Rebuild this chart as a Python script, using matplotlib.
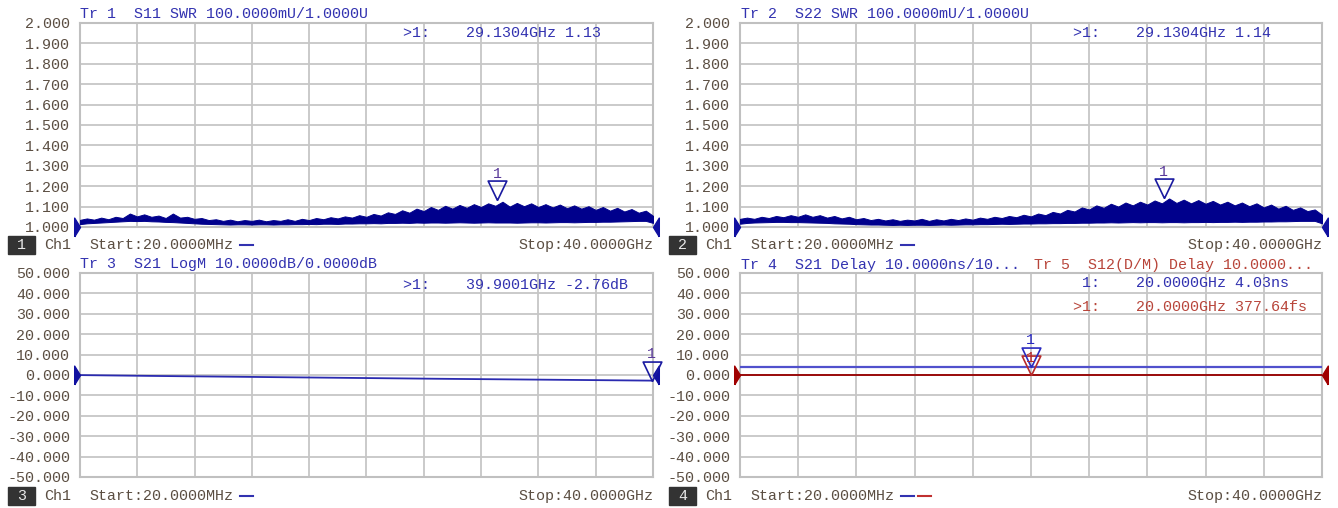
import matplotlib
matplotlib.use('agg')
import matplotlib.pyplot as plt
from matplotlib.patches import Rectangle
from matplotlib.lines import Line2D

# sweep 20 MHz .. 40 GHz; the SWR traces are drawn as a band between
# their lower and upper envelope (GHz, 0.5 GHz spacing)
f_start, f_stop = 0.02, 40.0
swr_freq = [0.02, 0.5, 1, 1.5, 2, 2.5, 3, 3.5, 4, 4.5, 5, 5.5, 6, 6.5, 7, 7.5, 8, 8.5, 9, 9.5,
            10, 10.5, 11, 11.5, 12, 12.5, 13, 13.5, 14, 14.5, 15, 15.5, 16, 16.5, 17, 17.5,
            18, 18.5, 19, 19.5, 20, 20.5, 21, 21.5, 22, 22.5, 23, 23.5, 24, 24.5, 25, 25.5,
            26, 26.5, 27, 27.5, 28, 28.5, 29, 29.5, 30, 30.5, 31, 31.5, 32, 32.5, 33, 33.5,
            34, 34.5, 35, 35.5, 36, 36.5, 37, 37.5, 38, 38.5, 39, 39.5, 40]
s11_hi = [1.035, 1.042, 1.036, 1.046, 1.038, 1.050, 1.044, 1.066, 1.052, 1.062,
          1.050, 1.056, 1.044, 1.066, 1.046, 1.050, 1.040, 1.044, 1.034, 1.038,
          1.030, 1.036, 1.028, 1.034, 1.030, 1.036, 1.028, 1.034, 1.030, 1.038,
          1.030, 1.040, 1.034, 1.044, 1.038, 1.048, 1.042, 1.052, 1.046, 1.058,
          1.050, 1.064, 1.056, 1.072, 1.064, 1.082, 1.070, 1.090, 1.078, 1.098,
          1.084, 1.104, 1.090, 1.108, 1.094, 1.112, 1.098, 1.116, 1.104, 1.124,
          1.100, 1.118, 1.102, 1.116, 1.098, 1.112, 1.096, 1.110, 1.092, 1.106,
          1.090, 1.102, 1.084, 1.098, 1.080, 1.094, 1.076, 1.088, 1.070, 1.080, 1.055]
s11_lo = [1.014, 1.018, 1.020, 1.022, 1.024, 1.026, 1.028, 1.030, 1.029, 1.030,
          1.028, 1.027, 1.025, 1.024, 1.022, 1.020, 1.018, 1.016, 1.015, 1.014,
          1.013, 1.012, 1.013, 1.013, 1.012, 1.013, 1.013, 1.012, 1.013, 1.013,
          1.014, 1.014, 1.015, 1.014, 1.016, 1.016, 1.015, 1.017, 1.017, 1.018,
          1.018, 1.019, 1.018, 1.020, 1.020, 1.021, 1.020, 1.022, 1.021, 1.022,
          1.022, 1.021, 1.022, 1.023, 1.022, 1.021, 1.022, 1.023, 1.022, 1.022,
          1.022, 1.021, 1.022, 1.023, 1.023, 1.022, 1.023, 1.024, 1.024, 1.023,
          1.024, 1.025, 1.025, 1.026, 1.026, 1.027, 1.028, 1.029, 1.030, 1.030, 1.020]
s22_hi = [1.040, 1.046, 1.040, 1.050, 1.044, 1.054, 1.048, 1.058, 1.050, 1.062,
          1.050, 1.058, 1.046, 1.054, 1.042, 1.050, 1.038, 1.044, 1.034, 1.040,
          1.032, 1.038, 1.030, 1.036, 1.032, 1.040, 1.030, 1.038, 1.032, 1.040,
          1.034, 1.042, 1.036, 1.046, 1.040, 1.050, 1.044, 1.054, 1.048, 1.060,
          1.052, 1.066, 1.058, 1.074, 1.066, 1.084, 1.076, 1.096, 1.086, 1.106,
          1.094, 1.114, 1.100, 1.120, 1.106, 1.124, 1.110, 1.130, 1.116, 1.140,
          1.118, 1.134, 1.116, 1.132, 1.114, 1.128, 1.110, 1.124, 1.106, 1.120,
          1.102, 1.116, 1.096, 1.110, 1.090, 1.104, 1.084, 1.096, 1.078, 1.086, 1.060]
s22_lo = [1.016, 1.020, 1.022, 1.023, 1.024, 1.025, 1.025, 1.024, 1.024, 1.023,
          1.022, 1.021, 1.020, 1.018, 1.017, 1.016, 1.014, 1.013, 1.012, 1.012,
          1.011, 1.010, 1.011, 1.010, 1.011, 1.011, 1.010, 1.011, 1.012, 1.011,
          1.012, 1.013, 1.013, 1.014, 1.014, 1.015, 1.016, 1.015, 1.016, 1.017,
          1.017, 1.018, 1.018, 1.019, 1.019, 1.020, 1.020, 1.021, 1.021, 1.022,
          1.022, 1.023, 1.022, 1.023, 1.024, 1.023, 1.024, 1.024, 1.023, 1.024,
          1.024, 1.023, 1.024, 1.024, 1.025, 1.024, 1.025, 1.025, 1.026, 1.025,
          1.026, 1.026, 1.027, 1.027, 1.028, 1.028, 1.029, 1.030, 1.030, 1.030, 1.018]

s21_freq = [0.02, 5, 10, 15, 20, 25, 30, 35, 39.9001, 40]
s21_db = [-0.05, -0.45, -0.80, -1.15, -1.50, -1.85, -2.15, -2.45, -2.76, -2.76]

delay_freq = [0.02, 10, 20, 30, 40]
s21_delay_ns = [4.03, 4.03, 4.03, 4.03, 4.03]
s12_delay_ns = [0.00037764, 0.00037764, 0.00037764, 0.00037764, 0.00037764]

# marker readouts
m1_f, m1_v = 29.1304, 1.13
m2_f, m2_v = 29.1304, 1.14
m3_f, m3_v = 39.9001, -2.76
m4_f, m4_blue, m4_red = 20.0, 4.03, 0.00037764

swr_ticks = [1.0, 1.1, 1.2, 1.3, 1.4, 1.5, 1.6, 1.7, 1.8, 1.9, 2.0]
db_ticks = [-50, -40, -30, -20, -10, 0, 10, 20, 30, 40, 50]

W, H = 1338, 508
plt.rcParams['font.family'] = ['Liberation Mono', 'DejaVu Sans Mono']
FS = 10.8
TICK_C = '#5b4e42'
BLUE_T = '#3232b0'
RED_T = '#b8453a'
NAVY = '#00008c'
DRED = '#a00000'


def fx(x):
    return x / W


def fy(y):
    return 1 - y / H


fig = plt.figure(figsize=(W / 100, H / 100), dpi=100)
fig.patch.set_facecolor('white')


def make_axes(left, top, width, ticks):
    ax = fig.add_axes([fx(left), fy(top + 204), width / W, 204 / H])
    ax.set_xlim(f_start, f_stop)
    ax.set_ylim(ticks[0], ticks[-1])
    step = (f_stop - f_start) / 10
    ax.set_xticks([f_start + i * step for i in range(11)])
    ax.set_yticks(ticks)
    ax.set_yticklabels(['%.3f' % t for t in ticks])
    ax.tick_params(length=0, labelbottom=False, pad=7, labelsize=FS, labelcolor=TICK_C)
    ax.grid(True, color='#c6c6c6', lw=1.3)
    for s in ax.spines.values():
        s.set_color('#c0c0c0')
        s.set_linewidth(1.5)
    ax.set_axisbelow(True)
    return ax


tri_down = [(0, 0), (-0.48, 1), (0.48, 1), (0, 0)]
tri_right = [(-0.62, -1), (-0.62, 1), (0, 0), (-0.62, -1)]
tri_left = [(0.62, -1), (0.62, 1), (0, 0), (0.62, -1)]


def ref_arrows(ax, ref, color):
    ax.plot([f_start], [ref], marker=tri_right, ms=13.5, color=color, clip_on=False, zorder=6)
    ax.plot([f_stop], [ref], marker=tri_left, ms=13.5, color=color, clip_on=False, zorder=6)


def marker(ax, f, v, color, num_color, dy=19):
    ax.plot([f], [v], marker=tri_down, ms=28, mfc='none', mec=color, mew=1.2,
            clip_on=False, zorder=7)
    ax.annotate('1', (f, v), xytext=(0, dy), textcoords='offset points', ha='center',
                va='center', fontsize=FS, color=num_color, zorder=8)


def strip(num, left, y, dashes):
    fig.add_artist(Rectangle((fx(left), fy(y + 9)), 27 / W, 18 / H,
                             transform=fig.transFigure, color='#333333'))
    fig.text(fx(left + 13.5), fy(y), str(num), ha='center', va='center', fontsize=FS,
             color='#e8e8e8')
    fig.text(fx(left + 36), fy(y), 'Ch1', ha='left', va='center', fontsize=FS, color=TICK_C)
    fig.text(fx(left + 81), fy(y), 'Start:20.0000MHz', ha='left', va='center', fontsize=FS,
             color=TICK_C)
    x0 = left + 232
    for c in dashes:
        fig.add_artist(Line2D([fx(x0), fx(x0 + 13)], [fy(y), fy(y)], color=c, lw=1.5))
        x0 += 17


# Tr 1: S11 SWR
ax1 = make_axes(80, 23, 573, swr_ticks)
ax1.fill_between(swr_freq, s11_lo, s11_hi, color=NAVY, lw=0.7, zorder=3)
ref_arrows(ax1, 1.0, '#1010a0')
marker(ax1, m1_f, m1_v, '#1a1aa0', '#5a3a9a')
fig.text(fx(80), fy(14), 'Tr 1  S11 SWR 100.0000mU/1.0000U', fontsize=FS, color=BLUE_T,
         va='center')
fig.text(fx(403), fy(33), '>1:    29.1304GHz %.2f' % m1_v, fontsize=FS, color=BLUE_T,
         va='center')
strip(1, 8, 245, [BLUE_T])
fig.text(fx(653), fy(245), 'Stop:40.0000GHz', ha='right', va='center', fontsize=FS,
         color=TICK_C)

# Tr 2: S22 SWR
ax2 = make_axes(740, 23, 582, swr_ticks)
ax2.fill_between(swr_freq, s22_lo, s22_hi, color=NAVY, lw=0.7, zorder=3)
ref_arrows(ax2, 1.0, '#1010a0')
marker(ax2, m2_f, m2_v, '#1a1aa0', '#5a3a9a')
fig.text(fx(741), fy(14), 'Tr 2  S22 SWR 100.0000mU/1.0000U', fontsize=FS, color=BLUE_T,
         va='center')
fig.text(fx(1073), fy(33), '>1:    29.1304GHz %.2f' % m2_v, fontsize=FS, color=BLUE_T,
         va='center')
strip(2, 669, 245, [BLUE_T])
fig.text(fx(1322), fy(245), 'Stop:40.0000GHz', ha='right', va='center', fontsize=FS,
         color=TICK_C)

# Tr 3: S21 LogM
ax3 = make_axes(80, 273, 573, db_ticks)
ax3.plot(s21_freq, s21_db, color='#2a2ab0', lw=1.3, zorder=3)
ref_arrows(ax3, 0, '#1010a0')
marker(ax3, m3_f, m3_v, '#1a1aa0', '#5a3a9a')
fig.text(fx(80), fy(264), 'Tr 3  S21 LogM 10.0000dB/0.0000dB', fontsize=FS, color=BLUE_T,
         va='center')
fig.text(fx(403), fy(285), '>1:    39.9001GHz %.2fdB' % m3_v, fontsize=FS, color=BLUE_T,
         va='center')
strip(3, 8, 496, [BLUE_T])
fig.text(fx(653), fy(496), 'Stop:40.0000GHz', ha='right', va='center', fontsize=FS,
         color=TICK_C)

# Tr 4 / Tr 5: group delay
ax4 = make_axes(740, 273, 582, db_ticks)
ax4.plot(delay_freq, s21_delay_ns, color='#5050cc', lw=1.6, zorder=3)
ax4.plot(delay_freq, s12_delay_ns, color='#9a0a0a', lw=1.4, zorder=3)
ref_arrows(ax4, 0, DRED)
marker(ax4, m4_f, m4_red, '#b82a2a', '#b82a2a', dy=12)
marker(ax4, m4_f, m4_blue, '#2a2ac0', '#2a2ac0')
fig.text(fx(741), fy(265), 'Tr 4  S21 Delay 10.0000ns/10...', fontsize=FS, color=BLUE_T,
         va='center')
fig.text(fx(1034), fy(265), 'Tr 5  S12(D/M) Delay 10.0000...', fontsize=FS, color=RED_T,
         va='center')
fig.text(fx(1073), fy(283), ' 1:    20.0000GHz %.2fns' % m4_blue, fontsize=FS,
         color=BLUE_T, va='center')
fig.text(fx(1073), fy(307), '>1:    20.0000GHz %.2ffs' % (m4_red * 1e6), fontsize=FS,
         color=RED_T, va='center')
strip(4, 669, 496, [BLUE_T, '#c03030'])
fig.text(fx(1322), fy(496), 'Stop:40.0000GHz', ha='right', va='center', fontsize=FS,
         color=TICK_C)

fig.savefig('out.png', dpi=100)
